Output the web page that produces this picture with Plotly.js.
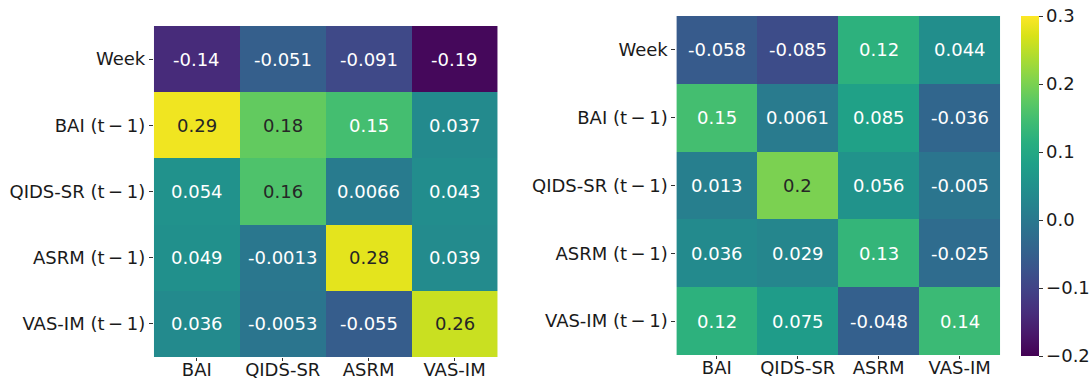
<!DOCTYPE html>
<html>
<head>
<meta charset="utf-8">
<script src="https://cdn.plot.ly/plotly-3.0.1.min.js"></script>
<style>html,body{margin:0;padding:0;background:#fff;}#chart{width:1089px;height:379px;}</style>
</head>
<body>
<div id="chart"></div>
<script>
const columns = ["BAI", "QIDS-SR", "ASRM", "VAS-IM"];
const rows = ["Week", "BAI (t\u2009\u2212\u20091)", "QIDS-SR (t\u2009\u2212\u20091)", "ASRM (t\u2009\u2212\u20091)", "VAS-IM (t\u2009\u2212\u20091)"];

const leftValues = [
  [-0.14, -0.051, -0.091, -0.19],
  [0.29, 0.18, 0.15, 0.037],
  [0.054, 0.16, 0.0066, 0.043],
  [0.049, -0.0013, 0.28, 0.039],
  [0.036, -0.0053, -0.055, 0.26]
];
const rightValues = [
  [-0.058, -0.085, 0.12, 0.044],
  [0.15, 0.0061, 0.085, -0.036],
  [0.013, 0.2, 0.056, -0.005],
  [0.036, 0.029, 0.13, -0.025],
  [0.12, 0.075, -0.048, 0.14]
];
const colorbarTicks = [-0.2, -0.1, 0.0, 0.1, 0.2, 0.3];

const zmin = -0.2, zmax = 0.3;
const FONT = "DejaVu Sans, Liberation Sans, sans-serif";

function fmt(v) { return Number(v.toPrecision(2)).toString(); }
function textColor(v) { return ((v - zmin) / (zmax - zmin)) > 0.71 ? "#262626" : "#ffffff"; }

const traces = [
  {type: "heatmap", x: columns, y: rows, z: leftValues, zmin: zmin, zmax: zmax,
   colorscale: "Viridis", showscale: false, xaxis: "x", yaxis: "y", hoverinfo: "skip"},
  {type: "heatmap", x: columns, y: rows, z: rightValues, zmin: zmin, zmax: zmax,
   colorscale: "Viridis", showscale: true, xaxis: "x2", yaxis: "y2", hoverinfo: "skip",
   colorbar: {x: 1021/1089, xanchor: "left", y: 1 - 16/379, yanchor: "top",
     len: 340/379, lenmode: "fraction", thickness: 18, thicknessmode: "pixels",
     outlinewidth: 0, tickvals: colorbarTicks, ticktext: colorbarTicks.map(v => v.toFixed(1).replace("-", "\u2212")),
     ticks: "outside", ticklen: 4, tickcolor: "#333", xpad: 0, ypad: 0,
     tickfont: {family: FONT, size: 18, color: "#1a1a1a"}}}
];

const annotations = [];
[[leftValues, "x", "y"], [rightValues, "x2", "y2"]].forEach(([vals, xr, yr]) => {
  vals.forEach((row, i) => row.forEach((v, j) => {
    annotations.push({x: columns[j], y: rows[i], xref: xr, yref: yr, text: fmt(v),
      showarrow: false, font: {family: FONT, size: 18, color: textColor(v)}});
  }));
});

const axisCommon = {type: "category", showgrid: false, zeroline: false, showline: false,
  ticks: "outside", ticklen: 4, tickcolor: "#333", tickwidth: 1, automargin: false,
  tickfont: {family: FONT, size: 18, color: "#1a1a1a"}};

const layout = {
  width: 1089, height: 379,
  margin: {l: 0, r: 0, t: 0, b: 0},
  paper_bgcolor: "#fff", plot_bgcolor: "#fff",
  font: {family: FONT},
  xaxis: Object.assign({}, axisCommon, {domain: [154/1089, 498/1089], anchor: "y", ticklen: 3, ticklabelstandoff: -7}),
  yaxis: Object.assign({}, axisCommon, {domain: [1 - 357/379, 1 - 26/379], anchor: "x", autorange: "reversed"}),
  xaxis2: Object.assign({}, axisCommon, {domain: [677/1089, 1001/1089], anchor: "y2", ticklen: 3, ticklabelstandoff: -7}),
  yaxis2: Object.assign({}, axisCommon, {domain: [1 - 355/379, 1 - 16/379], anchor: "x2", autorange: "reversed"}),
  annotations: annotations,
  showlegend: false
};

Plotly.newPlot("chart", traces, layout, {displayModeBar: false, staticPlot: true});
</script>
</body>
</html>
